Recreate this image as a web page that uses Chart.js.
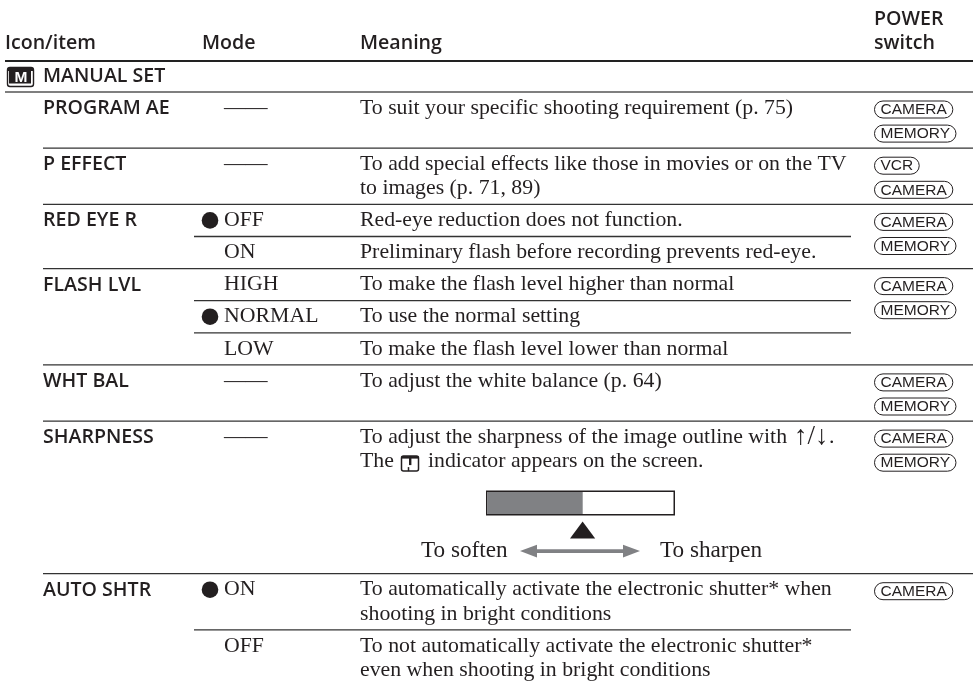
<!DOCTYPE html>
<html lang="en">
<head>
<meta charset="UTF-8">
<title>Manual set menu items</title>
<style>
    body { margin: 0; background: #fff; }
    canvas { display: block; }
</style>
<script src="https://cdn.jsdelivr.net/npm/chart.js"></script>
</head>
<body>
<canvas id="menuTable" width="973" height="682"></canvas>
<script>
// table content
const headers = ['Icon/item', 'Mode', 'Meaning'];
const powerHeader = ['POWER', 'switch'];
const sectionTitle = 'MANUAL SET';
const items = ['PROGRAM AE', 'P EFFECT', 'RED EYE R', 'FLASH LVL', 'WHT BAL', 'SHARPNESS', 'AUTO SHTR'];
const rowItem = [0, 1, 2, 2, 3, 3, 3, 4, 5, 6, 6];
const rowLines = [2, 2, 1, 1, 1, 1, 1, 2, 6, 2, 2];
const modes = ['——', '——', 'OFF', 'ON', 'HIGH', 'NORMAL', 'LOW', '——', '——', 'ON', 'OFF'];
const defaultMode = [0, 0, 1, 0, 0, 1, 0, 0, 0, 1, 0];
const meanings = [
    ['To suit your specific shooting requirement (p. 75)'],
    ['To add special effects like those in movies or on the TV', 'to images (p. 71, 89)'],
    ['Red-eye reduction does not function.'],
    ['Preliminary flash before recording prevents red-eye.'],
    ['To make the flash level higher than normal'],
    ['To use the normal setting'],
    ['To make the flash level lower than normal'],
    ['To adjust the white balance (p. 64)'],
    ['To adjust the sharpness of the image outline with'],
    ['To automatically activate the electronic shutter* when', 'shooting in bright conditions'],
    ['To not automatically activate the electronic shutter*', 'even when shooting in bright conditions']
];
const switches = [
    ['CAMERA', 'MEMORY'],
    ['VCR', 'CAMERA'],
    ['CAMERA', 'MEMORY'],
    ['CAMERA', 'MEMORY'],
    ['CAMERA', 'MEMORY'],
    ['CAMERA', 'MEMORY'],
    ['CAMERA']
];
const menuKeys = '↑/↓';
const indicatorNote = ['The', 'indicator appears on the screen.'];
const sharpnessEnds = ['To soften', 'To sharpen'];

// layout, in the units of the two axes
const LINE = 24.1;
const TOP = 92;
const col = { icon: 5, item: 43, bullet: 210, mode: 224, meaning: 360, power: 874, split: 194, splitEnd: 851, end: 973 };
const ink = '#231f20';
const grey = '#808184';

const rowTop = [];
rowLines.reduce((y, n, i) => { rowTop[i] = y; return y + 8 + LINE * n; }, TOP);

function cell(x, y, text) { return { x, y, text }; }

const headerCells = headers.map((h, i) => cell([col.icon, 202, col.meaning][i], 43, h))
    .concat(powerHeader.map((h, i) => cell(col.power, 19 + 24 * i, h)))
    .concat([cell(col.item, 76, sectionTitle)]);

const itemCells = items.map((name, i) => cell(col.item, rowTop[rowItem.indexOf(i)] + 16.4, name));
const modeCells = modes.map((m, i) => cell(col.mode, rowTop[i] + 16, m));
const meaningCells = [];
meanings.forEach((lines, i) => lines.forEach((l, j) => meaningCells.push(cell(col.meaning, rowTop[i] + 16 + LINE * j, l))));
const sharpRow = rowTop[8];
meaningCells.push(cell(829, sharpRow + 16, '.'));
meaningCells.push(cell(col.meaning, sharpRow + 16 + LINE, indicatorNote[0]));
meaningCells.push(cell(428, sharpRow + 16 + LINE, indicatorNote[1]));
const keyCells = [cell(794, sharpRow + 16, menuKeys)];
const endCells = [cell(421, sharpRow + 130, sharpnessEnds[0]), cell(660, sharpRow + 130, sharpnessEnds[1])];

const switchCells = [];
switches.forEach((names, i) => {
    const top = rowTop[rowItem.indexOf(i)];
    names.forEach((n, j) => switchCells.push(cell(col.power, top + 17.5 + LINE * j, n)));
});

const bullets = defaultMode.map((d, i) => d ? { x: col.bullet, y: rowTop[i] + 16 } : null).filter(Boolean);

function ruleSet(x0, x1, y, width, color) {
    return { type: 'scatter', showLine: true, data: [{ x: x0, y }, { x: x1, y }], borderColor: color, borderWidth: width, pointRadius: 0, borderCapStyle: 'butt' };
}

const rules = [ruleSet(col.icon, col.end, 61, 2.2, '#222'), ruleSet(col.icon, col.end, TOP, 1.6, '#555')];
rowTop.forEach((y, i) => {
    if (i === 0) return;
    const same = rowItem[i] === rowItem[i - 1];
    rules.push(ruleSet(same ? col.split : col.item, same ? col.splitEnd : col.end, y, 1.3, '#333'));
});

// sharpness scale diagram, first dataset ends up on top
const barY = sharpRow + 82;
const diagram = [
    ruleSet(532, 628, sharpRow + 130, 3.6, grey),
    ruleSet(487.5, 582.7, barY, 22, grey),
    ruleSet(487.5, 673.5, barY, 22, '#fff'),
    ruleSet(486, 675, barY, 25, ink)
];

function textSet(font, data, pill) {
    return { label: 'text', font, pill: !!pill, data, pointRadius: 0, showLine: false };
}

function triangle(ctx, a, b, c, color) {
    ctx.fillStyle = color;
    ctx.beginPath();
    ctx.moveTo(a[0], a[1]);
    ctx.lineTo(b[0], b[1]);
    ctx.lineTo(c[0], c[1]);
    ctx.closePath();
    ctx.fill();
}

const tablePlugin = {
    id: 'tablePlugin',
    afterDatasetsDraw(chart) {
        const ctx = chart.ctx;
        const X = v => chart.scales.x.getPixelForValue(v);
        const Y = v => chart.scales.y.getPixelForValue(v);
        ctx.save();
        ctx.textBaseline = 'middle';
        ctx.textAlign = 'left';

        chart.data.datasets.forEach((ds, i) => {
            if (ds.label !== 'text') return;
            const pts = chart.getDatasetMeta(i).data;
            ctx.font = ds.font;
            ds.data.forEach((d, k) => {
                const x = pts[k].x, y = pts[k].y;
                ctx.fillStyle = ink;
                if (ds.pill) {
                    const w = ctx.measureText(d.text).width;
                    ctx.strokeStyle = ink;
                    ctx.lineWidth = 1;
                    ctx.beginPath();
                    ctx.roundRect(x + 0.5, y - 8.5, w + 12, 17, 8.5);
                    ctx.stroke();
                    ctx.fillText(d.text, x + 6.5, y + 0.5);
                } else {
                    ctx.fillText(d.text, x, y);
                }
            });
        });

        // manual set icon
        ctx.fillStyle = '#fff';
        ctx.strokeStyle = ink;
        ctx.lineWidth = 1.4;
        ctx.beginPath();
        ctx.roundRect(X(7.5), Y(67.5), 26, 19, 2.5);
        ctx.fill();
        ctx.stroke();
        ctx.fillStyle = ink;
        ctx.fillRect(X(8), Y(68), 25, 3);
        ctx.fillRect(X(9), Y(70), 22, 13.5);
        ctx.fillStyle = '#fff';
        ctx.font = 'bold 15.5px "Liberation Sans"';
        ctx.fillText('M', X(14.5), Y(77.5));

        // sharpness indicator icon
        const ix = X(401.5), iy = Y(sharpRow + 35);
        ctx.strokeStyle = ink;
        ctx.lineWidth = 1.5;
        ctx.beginPath();
        ctx.roundRect(ix, iy, 17, 15, 2);
        ctx.stroke();
        ctx.fillStyle = ink;
        ctx.fillRect(ix, iy, 17, 2.5);
        ctx.fillRect(ix + 7.5, iy, 2.4, 9);
        ctx.beginPath();
        ctx.moveTo(ix + 7, iy + 15);
        ctx.lineTo(ix + 7, iy + 11);
        ctx.stroke();

        // pointer and double arrow of the scale
        const pointerBase = sharpRow + 117.5;
        triangle(ctx, [X(582.6), Y(sharpRow + 100.5)], [X(570), Y(pointerBase)], [X(595.2), Y(pointerBase)], ink);
        const ay = sharpRow + 130;
        triangle(ctx, [X(520), Y(ay)], [X(537), Y(ay - 6.3)], [X(537), Y(ay + 6.3)], grey);
        triangle(ctx, [X(640), Y(ay)], [X(623), Y(ay - 6.3)], [X(623), Y(ay + 6.3)], grey);
        ctx.restore();
    }
};

new Chart(document.getElementById('menuTable'), {
    type: 'scatter',
    data: {
        datasets: [
            ...diagram,
            ...rules,
            { type: 'scatter', data: bullets, pointStyle: 'circle', pointRadius: 8.3, backgroundColor: ink, borderWidth: 0 },
            textSet('600 19.6px "Open Sans"', headerCells.concat(itemCells)),
            textSet('21.8px "Liberation Serif"', modeCells.concat(meaningCells)),
            textSet('27px "Liberation Serif"', keyCells),
            textSet('23.2px "Liberation Serif"', endCells),
            textSet('15.5px "Liberation Sans"', switchCells, true)
        ]
    },
    options: {
        responsive: false,
        animation: false,
        layout: { padding: 0, autoPadding: false },
        events: [],
        scales: {
            x: { type: 'linear', min: 0, max: 973, display: false },
            y: { type: 'linear', min: 0, max: 682, reverse: true, display: false }
        },
        plugins: { legend: { display: false }, tooltip: { enabled: false } }
    },
    plugins: [tablePlugin]
});
</script>
</body>
</html>
